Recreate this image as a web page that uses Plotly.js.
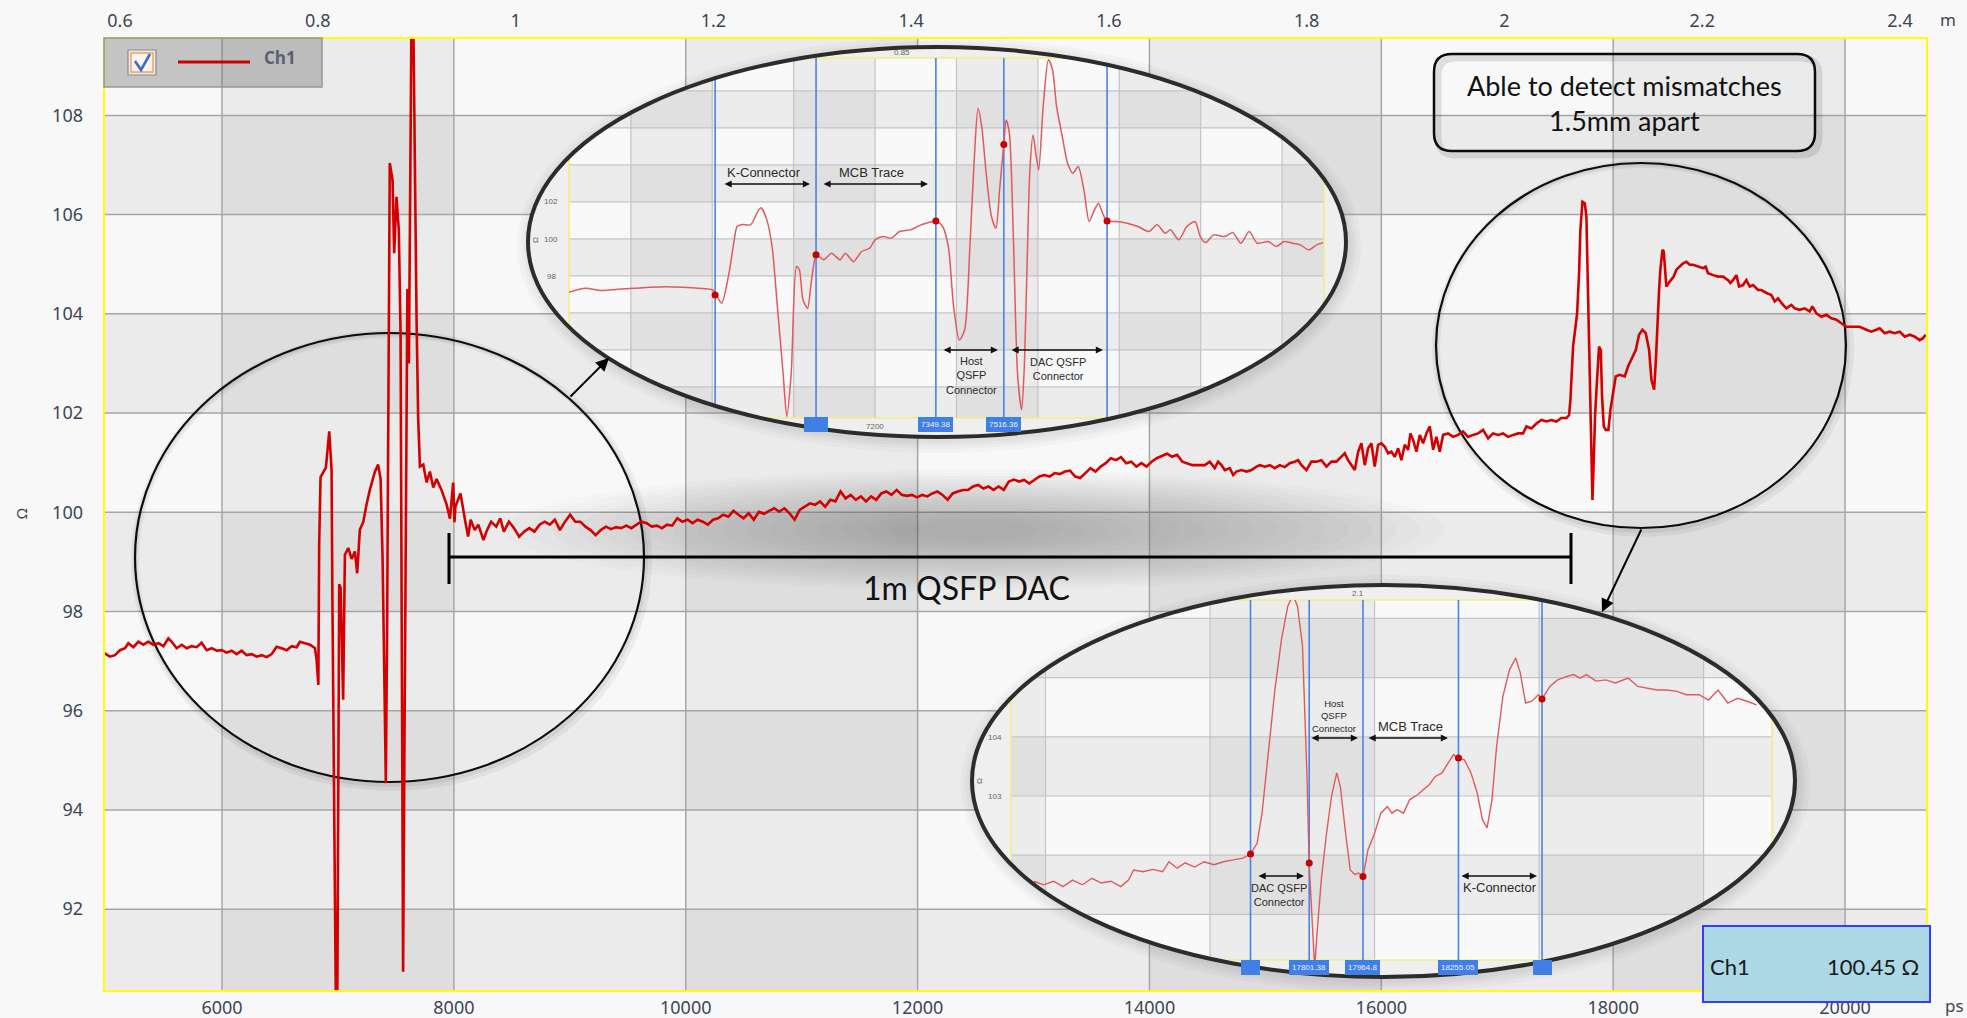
<!DOCTYPE html>
<html><head><meta charset="utf-8">
<script src="https://cdn.plot.ly/plotly-3.0.1.min.js"></script>
<style>html,body{margin:0;padding:0;background:#f8f8f8;overflow:hidden}#chart{width:1967px;height:1018px}</style>
</head><body><div id="chart"></div>
<script>
// ---------------- DATA ----------------
// axis ticks
const bottomTicks = [6000, 8000, 10000, 12000, 14000, 16000, 18000, 20000];
const leftTicks = [92, 94, 96, 98, 100, 102, 104, 106, 108];
const topTicks = [0.6, 0.8, 1.0, 1.2, 1.4, 1.6, 1.8, 2.0, 2.2, 2.4];

// main Ch1 trace (ps, ohm) in segments
const psLead = [4985,5034,5077,5120,5163,5192,5235,5278,5321,5364,5408,5451,5494,5537,5566,5609,5652,5695,5738,5781,5824,5868,5911,5954,5997,6040,6083,6126,6169,6212,6256,6299,6342,6385,6428,6471,6514,6557,6601,6644,6672,6716,6759,6802,6816,6831];
const ohmLead = [97.16,97.09,97.12,97.22,97.26,97.36,97.28,97.39,97.33,97.39,97.33,97.36,97.30,97.46,97.39,97.26,97.33,97.26,97.30,97.28,97.37,97.22,97.26,97.21,97.22,97.17,97.21,97.14,97.21,97.12,97.14,97.09,97.12,97.08,97.14,97.29,97.26,97.22,97.30,97.28,97.39,97.36,97.33,97.26,97.02,96.52];
const psNear = [6838,6850,6873,6896,6925,6945,6952,6959,6974,6983,6994,7002,7011,7023,7034,7045,7053,7060,7089,7118,7146,7166,7189,7218,7247,7275,7319,7347,7368,7385,7399,7413,7424,7437,7447,7471,7485,7505,7525,7540,7551,7562,7573,7586,7599,7612,7624,7635,7649,7659,7668,7678,7692,7707,7736,7765,7793,7822,7851,7893,7937,7966,7994,8005];
const ohmNear = [99.36,100.71,100.82,100.90,101.63,100.85,98.30,96.14,91.50,89.80,89.80,96.14,98.55,98.48,97.50,96.22,97.80,99.14,99.28,99.06,99.21,98.77,99.65,99.80,100.16,100.45,100.82,100.96,100.67,99.06,96.87,94.54,97.60,102.50,107.04,106.70,105.22,106.36,105.69,103.61,97.00,90.74,95.00,100.50,104.50,103.00,107.50,110.20,110.20,107.50,106.16,103.90,101.90,100.92,100.96,100.60,100.82,100.50,100.67,100.45,100.16,99.87,100.60,99.80];
const psCable = [8013,8057,8101,8123,8145,8180,8211,8255,8286,8321,8365,8400,8431,8475,8519,8563,8607,8651,8695,8739,8783,8827,8871,8915,8959,9003,9047,9091,9135,9179,9223,9267,9311,9355,9399,9443,9487,9531,9575,9619,9663,9707,9751,9795,9839,9883,9927,9971,10015,10059,10103,10147,10191,10235,10279,10323,10367,10411,10455,10499,10543,10587,10631,10675,10719,10763,10807,10851,10895,10939,10983,11027,11071,11115,11159,11203,11247,11291,11335,11379,11423,11467,11511,11555,11599,11643,11687,11731,11775,11819,11863,11907,11951,11995,12039,12083,12127,12171,12215,12259,12303,12347,12391,12435,12479,12523,12567,12611,12655,12699,12743,12787,12831,12875,12919,12963,13007,13051,13095,13139,13183,13227,13271,13315,13359,13403,13447,13491,13535,13579,13623,13667,13711,13755,13799,13843,13887,13931,13975,14019,14063,14107,14151,14195,14239,14283,14327,14371];
const ohmCable = [100.11,100.38,99.78,99.51,99.85,99.64,99.75,99.44,99.64,99.81,99.71,99.88,99.61,99.81,99.68,99.51,99.61,99.68,99.61,99.75,99.81,99.75,99.85,99.64,99.81,99.95,99.81,99.81,99.71,99.64,99.54,99.64,99.71,99.66,99.70,99.68,99.73,99.68,99.75,99.81,99.78,99.71,99.73,99.68,99.75,99.73,99.88,99.81,99.85,99.78,99.85,99.81,99.75,99.85,99.88,99.95,99.91,100.03,99.95,99.88,99.98,99.85,100.01,99.97,100.03,100.08,100.01,100.08,99.98,99.85,100.05,100.11,100.18,100.15,100.22,100.11,100.25,100.22,100.42,100.28,100.35,100.25,100.32,100.22,100.32,100.25,100.38,100.42,100.35,100.45,100.35,100.33,100.35,100.30,100.35,100.32,100.38,100.42,100.35,100.25,100.38,100.42,100.45,100.45,100.52,100.55,100.48,100.52,100.45,100.52,100.45,100.62,100.66,100.62,100.65,100.58,100.65,100.72,100.75,100.72,100.79,100.77,100.82,100.84,100.72,100.69,100.79,100.89,100.82,100.92,100.99,101.09,101.05,101.11,100.99,101.02,100.92,100.99,100.92,101.02,101.09,101.14,101.18,101.12,101.16,101.02,100.99,100.95];
const psCableEnd = [14477,14520,14563,14592,14621,14650,14693,14722,14750,14793,14837,14880,14923,14952,14995,15038,15081,15124,15167,15210,15253,15282,15311,15354,15397,15440,15483,15527,15570,15613,15656,15685,15713,15742,15771,15800,15828,15857,15886,15915,15943,15972,16001,16030,16058,16087,16116,16145,16173,16202,16231,16251,16274,16303,16332,16360,16389,16418,16447,16475,16504,16533,16576,16619,16662,16705,16748,16792,16835,16878,16921,16964,17007,17050,17093,17137,17180];
const ohmCableEnd = [100.95,101.02,100.89,101.02,100.95,100.85,100.89,100.75,100.82,100.85,100.82,100.85,100.92,100.95,100.92,100.95,100.89,100.95,100.91,100.99,101.02,101.05,100.95,100.85,101.02,101.02,101.05,100.92,101.02,101.02,101.12,101.19,101.05,100.95,100.85,101.22,101.39,100.95,101.29,101.39,100.92,101.36,101.39,101.32,101.19,101.22,101.12,101.29,101.05,101.36,101.26,101.59,101.46,101.22,101.56,101.39,101.59,101.73,101.26,101.52,101.22,101.56,101.59,101.52,101.56,101.63,101.52,101.56,101.59,101.66,101.49,101.59,101.56,101.59,101.52,101.56,101.59];
const psFar = [17223,17252,17295,17338,17381,17424,17467,17510,17553,17597,17620,17631,17654,17689,17706,17717,17735,17755,17769,17778,17786,17798,17809,17821,17829,17844,17861,17878,17893,17904,17919,17936,17959,17976,17999,18022,18056,18100,18128,18157,18195,18223,18252,18281,18310,18330,18353,18367,18381,18396,18407,18425,18436,18450,18459,18479,18502,18522,18545,18574,18603,18632,18660,18689,18732,18775,18798,18818,18862,18905,18948,18991,19011,19034,19063,19086,19120,19149,19178,19207,19250,19278,19322,19365,19393,19422,19465,19494,19537,19566,19609,19652,19695,19718,19753,19796,19839,19882,19925,19968,20011,20069,20127,20184,20227,20270,20299,20342,20385,20428,20472,20515,20558,20601,20644,20673,20696];
const ohmFar = [101.59,101.73,101.69,101.79,101.86,101.83,101.86,101.83,101.90,101.90,101.96,102.26,103.34,104.01,104.82,105.69,106.26,106.23,105.96,105.02,103.88,102.53,101.32,100.25,100.79,101.96,102.67,103.34,103.27,102.33,101.73,101.66,101.66,102.06,102.40,102.74,102.77,102.74,102.94,103.07,103.27,103.58,103.68,103.61,103.27,102.67,102.47,103.00,103.88,104.48,104.89,105.29,105.26,104.89,104.55,104.62,104.68,104.75,104.89,104.95,105.02,105.05,104.99,104.99,104.95,104.92,104.95,104.82,104.78,104.75,104.75,104.68,104.62,104.68,104.78,104.55,104.58,104.68,104.55,104.58,104.48,104.48,104.42,104.38,104.25,104.31,104.18,104.11,104.18,104.11,104.08,104.11,104.05,104.15,104.01,103.94,103.98,103.91,103.88,103.81,103.74,103.74,103.74,103.68,103.64,103.68,103.71,103.61,103.64,103.61,103.64,103.54,103.58,103.54,103.47,103.51,103.58];

// near-end zoom inset
const insetNearPs = [6448,6488,6528,6568,6607,6647,6687,6727,6767,6801,6810,6823,6841,6854,6861,6874,6894,6914,6920,6934,6947,6960,6974,6983,6994,7007,7014,7023,7034,7044,7056,7074,7093,7114,7127,7147,7167,7187,7200,7220,7240,7260,7287,7313,7350,7366,7380,7393,7407,7420,7433,7444,7453,7462,7473,7486,7497,7506,7517,7522,7530,7540,7550,7560,7566,7573,7580,7588,7596,7602,7613,7626,7636,7646,7660,7673,7686,7699,7713,7726,7739,7749,7759,7770,7793,7819,7846,7873,7893,7913,7926,7946,7966,7986,7999,8012,8032,8059,8079,8099,8119,8139,8166,8186,8205,8225,8245,8265,8285,8301];
const insetNearOhm = [97.12,97.33,97.21,97.28,97.33,97.39,97.42,97.39,97.33,97.24,96.97,96.52,98.14,99.95,100.67,100.78,100.76,101.57,101.69,101.03,99.59,96.34,92.74,90.40,92.74,98.51,98.33,96.70,96.25,97.78,99.14,98.87,99.23,98.87,99.23,98.77,99.32,99.50,99.95,100.13,100.04,100.40,100.49,100.76,100.97,100.67,99.59,96.34,94.54,95.08,99.59,104.45,107.06,106.07,103.55,101.21,100.58,102.65,105.35,106.43,105.71,99.95,92.74,90.76,92.74,98.14,103.55,105.62,104.45,103.73,107.15,109.68,109.14,107.15,105.53,104.09,103.55,103.91,102.65,100.94,101.57,101.93,101.39,100.97,100.94,100.85,100.67,100.40,100.76,100.31,100.49,99.95,100.67,100.94,100.13,99.80,100.22,100.13,100.34,99.77,100.40,99.77,99.86,99.59,99.86,99.77,99.68,99.41,99.68,99.80];
const nearCursorPs = [6807, 7055, 7349.38, 7516.36, 7770];
const nearCursorOhm = [96.97, 99.14, 100.97, 105.1, 100.97];
const nearGridPs = [6600, 6800, 7000, 7200, 7400, 7600, 7800, 8000, 8200];
const nearGridOhm = [92, 94, 96, 98, 100, 102, 104, 106, 108];
const nearTagText = ['\u2007\u2007\u2007\u2007', '7349.38', '7516.36'];

// far-end zoom inset
const insetFarPs = [16965,16994,17024,17053,17082,17112,17141,17170,17199,17229,17252,17268,17297,17326,17356,17375,17400,17424,17453,17482,17512,17541,17570,17600,17623,17643,17658,17678,17697,17717,17736,17752,17766,17781,17795,17801,17810,17818,17826,17838,17853,17869,17885,17896,17912,17926,17941,17951,17965,17980,18000,18019,18039,18053,18068,18088,18107,18131,18147,18166,18185,18205,18224,18240,18252,18273,18293,18312,18328,18342,18357,18371,18390,18410,18429,18443,18459,18478,18498,18509,18533,18556,18585,18605,18625,18644,18673,18703,18732,18771,18800,18830,18859,18888,18917,18947,18986,19015,19044,19074,19103,19132,19161];
const insetFarOhm = [101.56,101.50,101.56,101.47,101.58,101.50,101.61,101.53,101.56,101.47,101.58,101.75,101.72,101.76,101.72,101.89,101.78,101.87,101.80,101.89,101.84,101.89,101.92,101.95,102.02,102.20,102.71,103.72,104.79,105.64,106.20,106.40,106.20,105.53,103.27,101.87,101.02,100.10,100.74,101.58,102.32,102.99,103.39,103.16,102.37,101.75,101.67,101.70,101.64,102.09,102.37,102.71,102.82,102.71,102.77,102.71,102.94,103.02,103.10,103.19,103.33,103.39,103.56,103.70,103.64,103.61,103.39,103.05,102.60,102.46,102.94,103.84,104.68,105.13,105.33,105.08,104.57,104.60,104.71,104.64,104.85,104.96,105.02,105.05,104.99,105.05,104.94,104.96,104.91,104.99,104.85,104.82,104.79,104.79,104.77,104.71,104.71,104.62,104.79,104.57,104.65,104.60,104.54];
const farCursorPs = [17623, 17801.38, 17964.8, 18255.05, 18509];
const farCursorOhm = [102.02, 101.87, 101.64, 103.64, 104.64];
const farGridPs = [17000, 17500, 18000, 18500, 19000];
const farGridOhm = [101, 102, 103, 104, 105, 106];
const farTagText = ['\u2007\u2007\u2007', '17801.38', '17964.8', '18255.05', '\u2007\u2007\u2007'];

const mainPs = [].concat(psLead, psNear, psCable, psCableEnd, psFar);
const mainOhm = [].concat(ohmLead, ohmNear, ohmCable, ohmCableEnd, ohmFar);

// ---------------- LAYOUT HELPERS ----------------
const W = 1967, H = 1018;
const M = {l:104, r:40, t:38, b:27};
const PW = W - M.l - M.r, PH = H - M.t - M.b;
const px = x => (x - M.l) / PW;
const py = y => (H - M.b - y) / PH;
const XR = [4982, 20707], YR = [90.35, 109.56], XR2 = [0.5838, 2.4273];
const mx = v => (v - XR[0]) / (XR[1] - XR[0]);
const my = v => (v - YR[0]) / (YR[1] - YR[0]);
const f = v => v.toFixed(5);
const shapes = [], annotations = [];
const P = {xref:'paper', yref:'paper'};

const mainShade = ['#f8f8f8', '#ebebeb', '#dedede'];
const insetShade = ['#f9f9f9', '#ececec', '#e0e0e0'];

// main checkerboard
const colB = [XR[0], ...bottomTicks, XR[1]];
const rowB = [YR[0], ...leftTicks, YR[1]];
for (let j = 0; j < colB.length - 1; j++) {
  for (let i = 0; i < rowB.length - 1; i++) {
    const lvl = (j % 2 === 1 ? 1 : 0) + (i % 2 === 0 ? 1 : 0);
    shapes.push(Object.assign({type:'rect', layer:'below', x0:mx(colB[j]), x1:mx(colB[j+1]), y0:my(rowB[i]), y1:my(rowB[i+1]), fillcolor:mainShade[lvl], line:{width:0}}, P));
  }
}
// main gridlines
const gridLine = {color:'#a6a6a6', width:1.5};
bottomTicks.forEach(v => shapes.push(Object.assign({type:'line', layer:'below', x0:mx(v), x1:mx(v), y0:0, y1:1, line:gridLine}, P)));
leftTicks.forEach(v => shapes.push(Object.assign({type:'line', layer:'below', x0:0, x1:1, y0:my(v), y1:my(v), line:gridLine}, P)));

// soft shadow band behind the bracket
for (let k = 0; k < 18; k++) {
  const rx = 470 - k * 24, ry = 60 - k * 2.9, cx = 975, cy = 530;
  shapes.push(Object.assign({type:'circle', layer:'below', x0:px(cx - rx), x1:px(cx + rx), y0:py(cy + ry), y1:py(cy - ry), fillcolor:'rgba(70,70,70,0.02)', line:{width:0}}, P));
}

function ring(cx, cy, rx, ry, line, layer, fill) {
  shapes.push(Object.assign({type:'circle', layer:layer || 'below', x0:px(cx - rx), x1:px(cx + rx), y0:py(cy + ry), y1:py(cy - ry), line:line, fillcolor:fill || 'rgba(0,0,0,0)'}, P));
}
// simple circles (callouts on the main trace)
const ellA = {cx:389.5, cy:557.5, rx:254.5, ry:224.5};
const ellB = {cx:1641, cy:345.5, rx:205, ry:182.5};
[ellA, ellB].forEach(e => {
  ring(e.cx + 2, e.cy + 3, e.rx + 2, e.ry + 2, {color:'rgba(0,0,0,0.05)', width:8});
  ring(e.cx + 1, e.cy + 2, e.rx + 1, e.ry + 1, {color:'rgba(0,0,0,0.06)', width:4});
  ring(e.cx, e.cy, e.rx, e.ry, {color:'#0d0d0d', width:2.2});
});

// ---------------- INSETS ----------------
function ellipsePts(e, n) {
  const pts = [];
  for (let k = 0; k < n; k++) { const t = 2 * Math.PI * k / n; pts.push([e.cx + e.rx * Math.cos(t), e.cy + e.ry * Math.sin(t)]); }
  return pts;
}
function clipRect(poly, x0, x1, y0, y1) {
  const inside = [p => p[0] >= x0, p => p[0] <= x1, p => p[1] >= y0, p => p[1] <= y1];
  const inter = [
    (a, b) => [x0, a[1] + (x0 - a[0]) * (b[1] - a[1]) / (b[0] - a[0])],
    (a, b) => [x1, a[1] + (x1 - a[0]) * (b[1] - a[1]) / (b[0] - a[0])],
    (a, b) => [a[0] + (y0 - a[1]) * (b[0] - a[0]) / (b[1] - a[1]), y0],
    (a, b) => [a[0] + (y1 - a[1]) * (b[0] - a[0]) / (b[1] - a[1]), y1]];
  let out = poly;
  for (let k = 0; k < 4; k++) {
    const inp = out; out = [];
    if (!inp.length) break;
    for (let m = 0; m < inp.length; m++) {
      const cur = inp[m], prev = inp[(m + inp.length - 1) % inp.length];
      const ci = inside[k](cur), pi = inside[k](prev);
      if (ci) { if (!pi) out.push(inter[k](prev, cur)); out.push(cur); }
      else if (pi) out.push(inter[k](prev, cur));
    }
  }
  return out;
}
const pathOf = pts => 'M' + pts.map(p => f(px(p[0])) + ',' + f(py(p[1]))).join('L') + 'Z';
function vseg(e, x, ya, yb, line) {
  const t = (x - e.cx) / e.rx; if (Math.abs(t) >= 1) return;
  const h = e.ry * Math.sqrt(1 - t * t);
  const y0 = Math.max(ya, e.cy - h), y1 = Math.min(yb, e.cy + h);
  if (y1 <= y0) return;
  shapes.push(Object.assign({type:'line', layer:'below', x0:px(x), x1:px(x), y0:py(y0), y1:py(y1), line:line}, P));
}
function hseg(e, y, xa, xb, line) {
  const t = (y - e.cy) / e.ry; if (Math.abs(t) >= 1) return;
  const w = e.rx * Math.sqrt(1 - t * t);
  const x0 = Math.max(xa, e.cx - w), x1 = Math.min(xb, e.cx + w);
  if (x1 <= x0) return;
  shapes.push(Object.assign({type:'line', layer:'below', x0:px(x0), x1:px(x1), y0:py(y), y1:py(y), line:line}, P));
}
function buildInset(e, cols, rows, colDark, rowDark, cursors) {
  const poly = ellipsePts(e, 240);
  [13, 9, 6, 3].forEach(d => ring(e.cx + 2, e.cy + 3, e.rx + d, e.ry + d, {width:0}, 'below', 'rgba(0,0,0,0.022)'));
  shapes.push(Object.assign({type:'path', layer:'below', path:pathOf(poly), fillcolor:'#efefef', line:{width:0}}, P));
  const X = v => e.x0 + (v - e.xr[0]) / (e.xr[1] - e.xr[0]) * (e.x1 - e.x0);
  const Y = v => e.y1 - (v - e.yr[0]) / (e.yr[1] - e.yr[0]) * (e.y1 - e.y0);
  const xs = [e.xr[0], ...cols, e.xr[1]], ys = [e.yr[0], ...rows, e.yr[1]];
  for (let j = 0; j < xs.length - 1; j++) for (let i = 0; i < ys.length - 1; i++) {
    const lvl = (colDark(j) ? 1 : 0) + (rowDark(i) ? 1 : 0);
    const pts = clipRect(poly, X(xs[j]), X(xs[j + 1]), Y(ys[i + 1]), Y(ys[i]));
    if (pts.length > 2) shapes.push(Object.assign({type:'path', layer:'below', path:pathOf(pts), fillcolor:insetShade[lvl], line:{width:0}}, P));
  }
  const g = {color:'#c4c4c4', width:1.2};
  cols.forEach(c => vseg(e, X(c), e.y0, e.y1, g));
  rows.forEach(r => hseg(e, Y(r), e.x0, e.x1, g));
  const yl = {color:'#f1ec8c', width:1.6};
  hseg(e, e.y0, e.x0, e.x1, yl); hseg(e, e.y1, e.x0, e.x1, yl);
  vseg(e, e.x0, e.y0, e.y1, yl); vseg(e, e.x1, e.y0, e.y1, yl);
  cursors.forEach(c => vseg(e, X(c), e.y0, e.y1 + 12, {color:'#4a82e8', width:1.6}));
  ring(e.cx, e.cy, e.rx, e.ry, {color:'#2c2c2c', width:4}, 'above');
  return {X, Y};
}
const insetNear = {cx:937, cy:242, rx:409, ry:195, x0:569, x1:1324, y0:58, y1:418, xr:[6448, 8303], yr:[90.32, 109.78]};
const insetFar = {cx:1383.5, cy:781, rx:411.5, ry:196, x0:1011, x1:1772, y0:600, y1:960, xr:[16895, 19208], yr:[100.23, 106.31]};
const mapN = buildInset(insetNear, nearGridPs, nearGridOhm, j => j % 2 === 1, i => i % 2 === 0, nearCursorPs);
const mapF = buildInset(insetFar, farGridPs, farGridOhm, j => j % 2 === 0, i => i % 2 === 1, farCursorPs);

// ---------------- OVERLAYS (above) ----------------
shapes.push(Object.assign({type:'rect', layer:'above', x0:0, x1:1, y0:0, y1:1, line:{color:'#ffff00', width:2}}, P));
// legend box
shapes.push(Object.assign({type:'rect', layer:'above', x0:px(104), x1:px(322), y0:py(87), y1:py(38), fillcolor:'rgba(105,105,105,0.36)', line:{color:'#979797', width:1.5}}, P));
shapes.push(Object.assign({type:'rect', layer:'above', x0:px(128), x1:px(156), y0:py(75), y1:py(50), fillcolor:'#e9e9e9', line:{color:'#8c8c8c', width:1.2}}, P));
shapes.push(Object.assign({type:'rect', layer:'above', x0:px(131), x1:px(153), y0:py(72), y1:py(53), fillcolor:'#fbf4ee', line:{color:'#f0a060', width:1.4}}, P));
shapes.push(Object.assign({type:'path', layer:'above', path:'M' + f(px(135)) + ',' + f(py(61)) + 'L' + f(px(141)) + ',' + f(py(70)) + 'L' + f(px(150)) + ',' + f(py(54)), line:{color:'#3a6fc9', width:2.6}}, P));
shapes.push(Object.assign({type:'line', layer:'above', x0:px(178), x1:px(250), y0:py(62), y1:py(62), line:{color:'#cc0000', width:3}}, P));
// bracket
const br = {color:'#000', width:3};
shapes.push(Object.assign({type:'line', layer:'above', x0:px(449), x1:px(1571), y0:py(557), y1:py(557), line:br}, P));
shapes.push(Object.assign({type:'line', layer:'above', x0:px(449), x1:px(449), y0:py(533), y1:py(584), line:br}, P));
shapes.push(Object.assign({type:'line', layer:'above', x0:px(1571), x1:px(1571), y0:py(533), y1:py(584), line:br}, P));
// rounded note box
function roundRect(x0, y0, x1, y1, r) {
  const p = (x, y) => f(px(x)) + ',' + f(py(y));
  return 'M' + p(x0 + r, y0) + 'L' + p(x1 - r, y0) + 'Q' + p(x1, y0) + ' ' + p(x1, y0 + r) + 'L' + p(x1, y1 - r) + 'Q' + p(x1, y1) + ' ' + p(x1 - r, y1) +
    'L' + p(x0 + r, y1) + 'Q' + p(x0, y1) + ' ' + p(x0, y1 - r) + 'L' + p(x0, y0 + r) + 'Q' + p(x0, y0) + ' ' + p(x0 + r, y0) + 'Z';
}
shapes.push(Object.assign({type:'path', layer:'above', path:roundRect(1438, 58, 1819, 155, 18), line:{color:'rgba(0,0,0,0.10)', width:7}}, P));
shapes.push(Object.assign({type:'path', layer:'above', path:roundRect(1434, 54, 1815, 151, 18), line:{color:'#0a0a0a', width:2.5}}, P));
// readout box
shapes.push(Object.assign({type:'rect', layer:'above', x0:px(1703), x1:px(1930), y0:py(1002), y1:py(926), fillcolor:'#add8e6', line:{color:'#3a3aff', width:2}}, P));

// ---------------- ANNOTATIONS ----------------
function A(x, y, text, font, extra) {
  annotations.push(Object.assign({xref:'paper', yref:'paper', x:px(x), y:py(y), text:text, showarrow:false, font:font, xanchor:'center', yanchor:'middle'}, extra || {}));
}
const unitFont = {family:'Noto Sans, sans-serif', size:17, color:'#3d4656'};
A(1948, 20, 'm', unitFont);
A(1954, 1005, 'ps', unitFont);
A(21, 514, 'Ω', {family:'Noto Sans, sans-serif', size:15, color:'#3d4656'}, {textangle:-90});
A(262, 58, 'Ch1', {family:'Open Sans, sans-serif', size:17, color:'#59616e', weight:700}, {xanchor:'left'});
A(1624, 103, 'Able to detect mismatches<br>1.5mm apart', {family:'Lato, sans-serif', size:27, color:'#111'});
A(966, 587, '1m QSFP DAC', {family:'Lato, sans-serif', size:32, color:'#111'});
A(1708, 966, 'Ch1', {family:'Lato, sans-serif', size:22, color:'#1a1a1a'}, {xanchor:'left'});
A(1921, 966, '100.45 Ω', {family:'Lato, sans-serif', size:22, color:'#1a1a1a'}, {xanchor:'right'});

const inFont = {family:'Liberation Sans, Arial, sans-serif', size:13, color:'#2a2a2a'};
const inSmall = {family:'Liberation Sans, Arial, sans-serif', size:11, color:'#2a2a2a'};
const tiny = {family:'Liberation Sans, Arial, sans-serif', size:8, color:'#666'};
function dbl(xa, xb, y) {
  annotations.push({xref:'paper', yref:'paper', x:px(xb), y:py(y), ax:xa - xb, ay:0, text:'', showarrow:true,
    arrowhead:2, startarrowhead:2, arrowside:'end+start', arrowsize:0.9, arrowwidth:1.6, arrowcolor:'#111', standoff:0, startstandoff:0});
}
// near inset labels
A(764, 172, 'K-Connector', inFont); dbl(723, 810, 184);
A(871, 172, 'MCB Trace', inFont); dbl(822, 928, 184);
A(971, 375, 'Host<br>QSFP<br>Connector', inSmall); dbl(942, 998, 350);
A(1058, 369, 'DAC QSFP<br>Connector', inSmall); dbl(1010, 1103, 350);
A(551, 202, '102', tiny); A(551, 239, '100', tiny); A(551, 276, '98', tiny);
A(535, 240, 'Ω', tiny, {textangle:-90}); A(875, 426, '7200', tiny); A(902, 52, '0.85', tiny);
// far inset labels
A(1279, 895, 'DAC QSFP<br>Connector', inSmall); dbl(1257, 1304, 876);
A(1334, 716, 'Host<br>QSFP<br>Connector', {family:'Liberation Sans, Arial, sans-serif', size:9.5, color:'#2a2a2a'}); dbl(1310, 1358, 738);
A(1410, 726, 'MCB Trace', inFont); dbl(1367, 1448, 738);
A(1500, 887, 'K-Connector', inFont); dbl(1460, 1537, 876);
A(995, 737, '104', tiny); A(995, 796, '103', tiny); A(979, 781, 'Ω', tiny, {textangle:-90}); A(1358, 593, '2.1', tiny);
// cursor tags
const tagFont = {family:'Liberation Sans, Arial, sans-serif', size:8, color:'#eef3ff'};
nearCursorPs.slice(1, 4).forEach((c, k) => A(mapN.X(c), 424, nearTagText[k], tagFont, {bgcolor:'#3f7fe6', bordercolor:'#3f7fe6', borderpad:2}));
farCursorPs.forEach((c, k) => A(mapF.X(c), 967, farTagText[k], tagFont, {bgcolor:'#3f7fe6', bordercolor:'#3f7fe6', borderpad:2}));
// callout arrows
annotations.push({xref:'paper', yref:'paper', x:px(609), y:py(358), ax:-40, ay:40, text:'', showarrow:true, arrowhead:2, arrowsize:1.3, arrowwidth:2, arrowcolor:'#000', standoff:0});
annotations.push({xref:'paper', yref:'paper', x:px(1602), y:py(612), ax:40, ay:-84, text:'', showarrow:true, arrowhead:2, arrowsize:1.3, arrowwidth:2, arrowcolor:'#000', standoff:0});

// ---------------- TRACES ----------------
const traces = [
  {x:mainPs, y:mainOhm, xaxis:'x', yaxis:'y', mode:'lines', line:{color:'#d20000', width:2.6}, hoverinfo:'skip'},
  // carrier for the top distance axis (no visible mark)
  {x:topTicks, y:topTicks.map(() => null), xaxis:'x2', yaxis:'y', mode:'lines', line:{width:0}, hoverinfo:'skip'},
  {x:insetNearPs, y:insetNearOhm, xaxis:'x3', yaxis:'y3', mode:'lines', line:{color:'#e05a5a', width:1.5, shape:'spline', smoothing:0.7}, hoverinfo:'skip'},
  {x:nearCursorPs, y:nearCursorOhm, xaxis:'x3', yaxis:'y3', mode:'markers', marker:{color:'#c40000', size:7}, hoverinfo:'skip'},
  {x:insetFarPs, y:insetFarOhm, xaxis:'x4', yaxis:'y4', mode:'lines', line:{color:'#e05a5a', width:1.4}, hoverinfo:'skip'},
  {x:farCursorPs, y:farCursorOhm, xaxis:'x4', yaxis:'y4', mode:'markers', marker:{color:'#c40000', size:7}, hoverinfo:'skip'}
];

const tickFont = {family:'Noto Sans, sans-serif', size:18, color:'#3d4656'};
const hidden = {visible:false, fixedrange:true};
const layout = {
  width:W, height:H, margin:M, paper_bgcolor:'#f8f8f8', plot_bgcolor:'rgba(0,0,0,0)',
  showlegend:false, hovermode:false,
  xaxis:{range:XR, tickmode:'array', tickvals:bottomTicks, ticktext:bottomTicks.map(String), showgrid:false, zeroline:false, showline:false, ticks:'', tickfont:tickFont, ticklabelstandoff:4, fixedrange:true},
  yaxis:{range:YR, tickmode:'array', tickvals:leftTicks, ticktext:leftTicks.map(String), showgrid:false, zeroline:false, showline:false, ticks:'', tickfont:tickFont, ticklabelstandoff:20, fixedrange:true},
  xaxis2:{overlaying:'x', side:'top', anchor:'y', range:XR2, tickmode:'array', tickvals:topTicks, ticktext:topTicks.map(v => String(+v.toFixed(1))), showgrid:false, zeroline:false, showline:false, ticks:'', tickfont:tickFont, ticklabelstandoff:6, fixedrange:true},
  xaxis3:Object.assign({domain:[px(insetNear.x0), px(insetNear.x1)], anchor:'y3', range:insetNear.xr}, hidden),
  yaxis3:Object.assign({domain:[py(insetNear.y1), py(insetNear.y0)], anchor:'x3', range:insetNear.yr}, hidden),
  xaxis4:Object.assign({domain:[px(insetFar.x0), px(insetFar.x1)], anchor:'y4', range:insetFar.xr}, hidden),
  yaxis4:Object.assign({domain:[py(insetFar.y1), py(insetFar.y0)], anchor:'x4', range:insetFar.yr}, hidden),
  shapes:shapes, annotations:annotations
};
Plotly.newPlot('chart', traces, layout, {staticPlot:true, displayModeBar:false});
</script>
</body></html>
